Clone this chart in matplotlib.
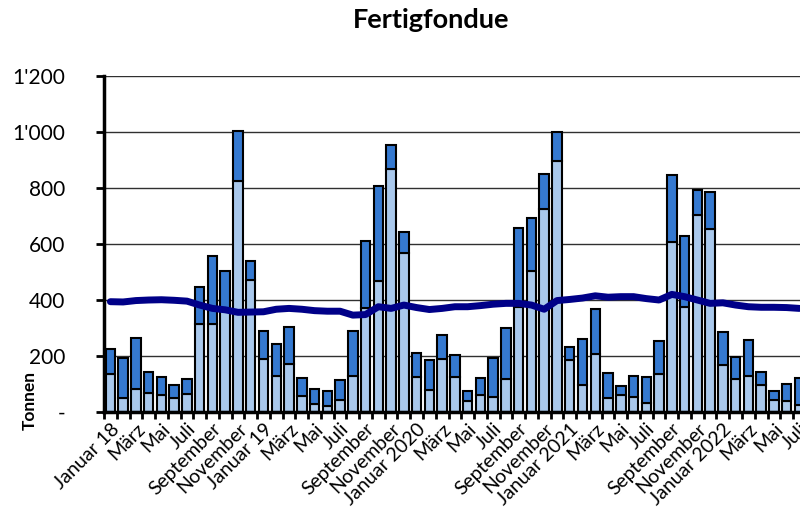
import numpy as np
import matplotlib.pyplot as plt
from matplotlib.ticker import FuncFormatter

plt.rcParams['font.family'] = ['Lato', 'DejaVu Sans']

# monthly totals (Tonnen), Jan 2018 .. Jul 2022
total = [225, 194, 263, 142, 126, 95, 119, 448, 557, 504, 1003, 539,
         290, 242, 302, 120, 83, 76, 115, 289, 610, 808, 954, 643,
         210, 186, 275, 204, 76, 123, 194, 299, 657, 694, 850, 1001,
         233, 260, 367, 140, 94, 129, 125, 254, 845, 630, 793, 784,
         285, 196, 256, 144, 75, 101, 123]
# lower (light) part of each bar
lower = [136, 51, 83, 69, 61, 49, 64, 314, 314, 365, 825, 471,
         189, 129, 171, 58, 30, 23, 43, 127, 370, 468, 867, 567,
         125, 79, 189, 126, 39, 60, 52, 118, 375, 505, 725, 896,
         186, 96, 207, 51, 61, 55, 31, 135, 606, 374, 705, 654,
         167, 119, 129, 98, 43, 40, 24]
# moving average line
trend = [394, 393, 398, 400, 401, 399, 396, 382, 370, 365, 356, 357,
         358, 367, 370, 367, 362, 360, 360, 346, 348, 376, 370, 382,
         373, 366, 370, 376, 376, 380, 385, 388, 388, 382, 367, 398,
         402, 407, 415, 410, 412, 412, 405, 400, 420, 412, 400, 388,
         390, 382, 376, 374, 374, 373, 370]

month_names = ['Januar', 'Februar', 'März', 'April', 'Mai', 'Juni', 'Juli',
               'August', 'September', 'Oktober', 'November', 'Dezember']
years = ['18', '19', '2020', '2021', '2022']

labels = []
for i in range(len(total)):
    m = month_names[i % 12]
    if i % 12 == 0:
        m = m + ' ' + years[i // 12]
    labels.append(m)

x = np.arange(len(total))
upper = np.array(total) - np.array(lower)

fig = plt.figure(figsize=(8, 5.11), dpi=100)
n_slots = 56
ax = fig.add_axes([0.13, 0.1937, n_slots * 12.76 / 800, 0.6576])

ax.bar(x, lower, width=0.74, color='#a9c8ec', edgecolor='black', linewidth=1.5, zorder=2)
ax.bar(x, upper, bottom=lower, width=0.74, color='#3579d0', edgecolor='black', linewidth=1.5, zorder=2)
ax.plot(x, trend, color='#000088', linewidth=5, zorder=3, solid_capstyle='round')

ax.set_xlim(-0.5, n_slots - 0.5)
ax.set_ylim(0, 1200)
ax.set_yticks(np.arange(0, 1201, 200))
ax.yaxis.set_major_formatter(FuncFormatter(
    lambda v, p: '-' if v == 0 else f'{int(v):,}'.replace(',', "'")))
ax.grid(axis='y', color='#303030', linewidth=1, zorder=0)
ax.set_axisbelow(True)

ax.set_xticks(x[::2])
ax.set_xticklabels(labels[::2], rotation=45, ha='right', rotation_mode='anchor', fontsize=14)
ax.set_xticks(np.arange(-0.5, n_slots, 1), minor=True)
ax.tick_params(axis='x', which='major', length=0, pad=6)
ax.tick_params(axis='x', which='minor', length=5, width=2, direction='out')
ax.tick_params(axis='y', length=6, width=2, pad=22, labelsize=15)

for s in ['top', 'right']:
    ax.spines[s].set_visible(False)
ax.spines['left'].set_linewidth(2.5)
ax.spines['bottom'].set_linewidth(2.5)

fig.text(0.539, 0.96, 'Fertigfondue', ha='center', va='center', fontsize=19.5, fontweight='bold')
fig.text(0.037, 0.158, 'Tonnen', rotation=90, ha='center', va='bottom', fontsize=12.5, fontweight='bold')

fig.savefig('out.png', dpi=100)
